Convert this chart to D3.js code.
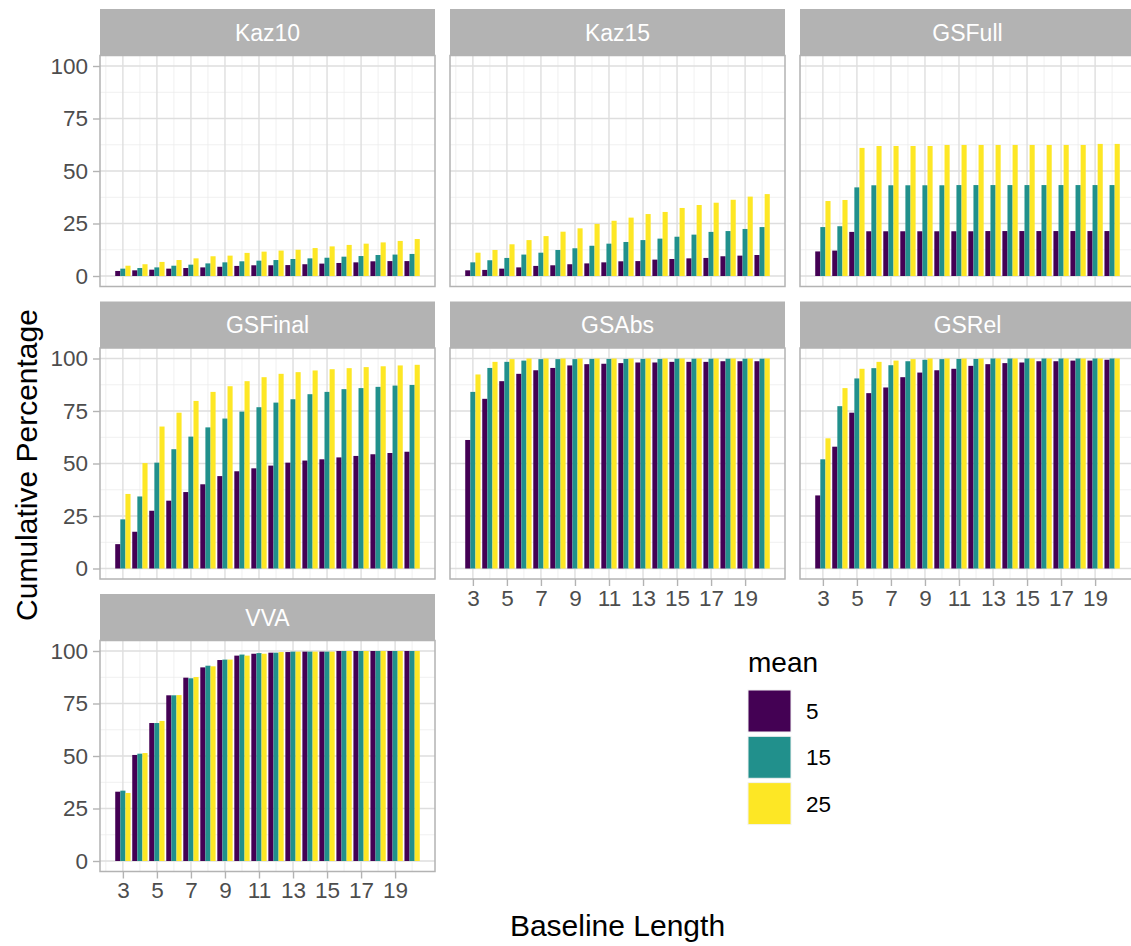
<!DOCTYPE html>
<html>
<head>
<meta charset="utf-8">
<script src="https://cdn.jsdelivr.net/npm/d3@7"></script>
<style>
  body { margin: 0; background: #fff; }
  svg { display: block; font-family: "Liberation Sans", Arial, sans-serif; }
</style>
</head>
<body>
<div id="grafica"></div>
<script>
// categorias del eje x (longitud de la linea base)
const baselineLength = [3, 4, 5, 6, 7, 8, 9, 10, 11, 12, 13, 14, 15, 16, 17, 18, 19, 20];
const means = ["5", "15", "25"];
const methods = ["Kaz10", "Kaz15", "GSFull", "GSFinal", "GSAbs", "GSRel", "VVA"];
const xTicks = [3, 5, 7, 9, 11, 13, 15, 17, 19];
const yTicks = [0, 25, 50, 75, 100];

// porcentaje acumulado, una lista por metodo y media
const kaz10_5  = [2.4, 2.7, 3.0, 3.5, 3.8, 4.1, 4.4, 4.8, 5.1, 5.1, 5.2, 5.6, 5.9, 6.2, 6.5, 7.0, 7.1, 7.1];
const kaz10_15 = [3.5, 3.8, 4.1, 4.9, 5.4, 6.0, 6.5, 7.0, 7.3, 7.6, 8.1, 8.4, 8.7, 9.2, 9.5, 10.0, 10.2, 10.5];
const kaz10_25 = [4.9, 5.6, 6.7, 7.6, 8.4, 9.4, 9.7, 11.0, 11.6, 12.1, 12.5, 13.3, 14.1, 14.8, 15.4, 16.0, 16.7, 17.6];

const kaz15_5  = [2.7, 2.9, 3.5, 4.1, 4.8, 5.1, 5.6, 6.0, 6.5, 7.0, 7.1, 7.8, 8.1, 8.4, 8.6, 9.4, 9.7, 10.0];
const kaz15_15 = [6.5, 7.5, 8.6, 10.2, 11.1, 12.4, 13.2, 14.4, 15.4, 16.2, 17.1, 17.8, 18.7, 19.7, 21.0, 21.4, 22.4, 23.3];
const kaz15_25 = [11.1, 12.4, 15.1, 17.1, 19.0, 21.1, 22.7, 24.8, 26.3, 27.8, 29.5, 30.5, 32.4, 33.8, 34.9, 36.3, 37.8, 39.0];

const gsfull_5  = [11.7, 12.1, 21.0, 21.3, 21.3, 21.3, 21.3, 21.3, 21.3, 21.3, 21.4, 21.4, 21.4, 21.4, 21.4, 21.4, 21.4, 21.4];
const gsfull_15 = [23.3, 23.7, 42.2, 43.2, 43.2, 43.2, 43.2, 43.2, 43.3, 43.3, 43.3, 43.3, 43.3, 43.3, 43.3, 43.3, 43.3, 43.3];
const gsfull_25 = [35.7, 36.2, 61.0, 61.9, 61.9, 61.9, 61.9, 62.4, 62.4, 62.4, 62.4, 62.4, 62.4, 62.4, 62.4, 62.4, 62.9, 62.9];

const gsfinal_5  = [11.6, 17.5, 27.5, 32.3, 36.4, 40.1, 44.0, 46.3, 47.7, 49.0, 50.4, 51.4, 52.0, 52.9, 53.6, 54.4, 55.0, 55.6];
const gsfinal_15 = [23.4, 34.3, 50.4, 56.8, 62.8, 67.2, 71.4, 74.7, 76.8, 79.0, 80.6, 83.0, 84.1, 85.4, 85.9, 86.5, 87.1, 87.4];
const gsfinal_25 = [35.5, 50.2, 67.6, 74.2, 79.8, 84.1, 86.8, 89.2, 91.1, 92.7, 93.5, 94.3, 94.9, 95.4, 95.9, 96.3, 96.7, 97.0];

const gsabs_5  = [61.2, 80.8, 89.2, 92.7, 94.4, 95.5, 96.7, 97.3, 97.5, 97.8, 98.1, 98.1, 98.4, 98.4, 98.4, 98.7, 98.7, 98.7];
const gsabs_15 = [84.1, 95.5, 98.4, 99.0, 99.7, 99.7, 99.7, 99.8, 99.8, 99.8, 99.8, 99.8, 99.9, 99.9, 99.9, 99.9, 99.9, 99.9];
const gsabs_25 = [92.4, 98.4, 99.7, 100, 100, 100, 100, 100, 100, 100, 100, 100, 100, 100, 100, 100, 100, 100];

const gsrel_5  = [34.8, 58.0, 74.2, 83.5, 86.2, 91.1, 93.3, 94.4, 95.1, 96.5, 97.3, 97.8, 98.1, 98.7, 98.7, 99.0, 99.0, 99.4];
const gsrel_15 = [52.0, 77.3, 90.5, 95.4, 96.8, 98.7, 99.4, 99.7, 99.8, 99.8, 100, 100, 100, 100, 100, 100, 100, 100];
const gsrel_25 = [62.0, 85.9, 95.1, 98.4, 99.0, 99.7, 100, 100, 100, 100, 100, 100, 100, 100, 100, 100, 100, 100];

const vva_5  = [33.0, 50.5, 65.7, 78.9, 87.3, 92.2, 95.7, 97.8, 98.7, 99.2, 99.5, 99.7, 99.7, 100, 100, 100, 100, 100];
const vva_15 = [33.5, 51.1, 65.7, 78.9, 87.0, 93.0, 95.9, 98.3, 99.0, 99.2, 99.7, 99.7, 99.7, 100, 100, 100, 100, 100];
const vva_25 = [32.4, 51.4, 66.7, 79.0, 87.6, 92.7, 95.9, 97.8, 98.7, 99.5, 99.7, 99.7, 99.7, 100, 100, 100, 100, 100];

const seriesByMethod = {
  Kaz10: [kaz10_5, kaz10_15, kaz10_25],
  Kaz15: [kaz15_5, kaz15_15, kaz15_25],
  GSFull: [gsfull_5, gsfull_15, gsfull_25],
  GSFinal: [gsfinal_5, gsfinal_15, gsfinal_25],
  GSAbs: [gsabs_5, gsabs_15, gsabs_25],
  GSRel: [gsrel_5, gsrel_15, gsrel_25],
  VVA: [vva_5, vva_15, vva_25]
};

const colores = ["#440154", "#21908C", "#FDE725"];

const width = 1131, height = 946;
const svg = d3.select("#grafica").append("svg")
    .attr("width", width)
    .attr("height", height);

// geometria de la rejilla de paneles
const colX = [100, 450, 800];
const rowY = [9, 301.5, 594];
const pw = 335, stripH = 46.5, ph = 231;

// escalas compartidas (continuas, expansion del 5%)
const dodge = 0.9, barW = dodge / means.length;
const xmin = d3.min(baselineLength) - dodge / 2, xmax = d3.max(baselineLength) + dodge / 2;
const pad = (xmax - xmin) * 0.05;
const x = d3.scaleLinear().domain([xmin - pad, xmax + pad]).range([0, pw]);
const y = d3.scaleLinear().domain([-5, 105]).range([ph, 0]);
const color = d3.scaleOrdinal().domain(means).range(colores);

const xMinor = [2, 4, 6, 8, 10, 12, 14, 16, 18, 20];
const yMinor = [12.5, 37.5, 62.5, 87.5];

methods.forEach(function(m, idx) {
  const col = idx % 3, row = Math.floor(idx / 3);
  const px = colX[col], py = rowY[row] + stripH;
  const g = svg.append("g").attr("transform", `translate(${px},${py})`);

  // cabecera del panel
  svg.append("rect")
    .attr("x", px).attr("y", rowY[row])
    .attr("width", pw).attr("height", stripH)
    .attr("fill", "#b3b3b3");
  svg.append("text")
    .attr("x", px + pw / 2).attr("y", rowY[row] + stripH / 2)
    .attr("dy", "0.36em")
    .attr("text-anchor", "middle")
    .attr("fill", "#ffffff")
    .attr("font-size", 23)
    .text(m);

  // rejilla menor y mayor
  g.selectAll(".ymin").data(yMinor).join("line")
    .attr("x1", 0).attr("x2", pw)
    .attr("y1", d => y(d)).attr("y2", d => y(d))
    .attr("stroke", "#ececec").attr("stroke-width", 0.8);
  g.selectAll(".xmin").data(xMinor.filter(v => x(v) > 0 && x(v) < pw)).join("line")
    .attr("y1", 0).attr("y2", ph)
    .attr("x1", d => x(d)).attr("x2", d => x(d))
    .attr("stroke", "#ececec").attr("stroke-width", 0.8);
  g.selectAll(".ymaj").data(yTicks).join("line")
    .attr("x1", 0).attr("x2", pw)
    .attr("y1", d => y(d)).attr("y2", d => y(d))
    .attr("stroke", "#dedede").attr("stroke-width", 1.4);
  g.selectAll(".xmaj").data(xTicks).join("line")
    .attr("y1", 0).attr("y2", ph)
    .attr("x1", d => x(d)).attr("x2", d => x(d))
    .attr("stroke", "#dedede").attr("stroke-width", 1.4);

  // barras agrupadas
  const series = seriesByMethod[m];
  series.forEach(function(vals, i) {
    g.append("g").selectAll("rect")
      .data(baselineLength.map((b, j) => ({b: b, v: vals[j]})))
      .join("rect")
      .attr("x", d => x(d.b - dodge / 2 + i * barW))
      .attr("width", x(barW) - x(0))
      .attr("y", d => y(d.v))
      .attr("height", d => y(0) - y(d.v))
      .attr("fill", color(means[i]));
  });

  // borde del panel
  g.append("rect")
    .attr("width", pw).attr("height", ph)
    .attr("fill", "none")
    .attr("stroke", "#b3b3b3").attr("stroke-width", 1.5);

  // eje y solo en la primera columna
  if (col === 0) {
    const ay = g.append("g").call(d3.axisLeft(y).tickValues(yTicks).tickSize(7).tickPadding(5));
    ay.select(".domain").remove();
    ay.selectAll("line").attr("stroke", "#b3b3b3").attr("stroke-width", 1.4);
    ay.selectAll("text").attr("fill", "#4d4d4d").attr("font-size", 22.5)
      .attr("font-family", "Liberation Sans, Arial, sans-serif");
  }

  // eje x solo en el panel inferior de cada columna
  const bottom = (row === 2) || (row === 1 && col > 0);
  if (bottom) {
    const ax = g.append("g").attr("transform", `translate(0,${ph})`)
      .call(d3.axisBottom(x).tickValues(xTicks).tickSize(7).tickPadding(4));
    ax.select(".domain").remove();
    ax.selectAll("line").attr("stroke", "#b3b3b3").attr("stroke-width", 1.4);
    ax.selectAll("text").attr("fill", "#4d4d4d").attr("font-size", 22.5)
      .attr("font-family", "Liberation Sans, Arial, sans-serif");
  }
});

// titulos de los ejes
svg.append("text")
  .attr("x", 617.5).attr("y", 936)
  .attr("text-anchor", "middle")
  .attr("font-size", 30)
  .attr("fill", "#000")
  .text("Baseline Length");

svg.append("text")
  .attr("transform", "translate(37,465) rotate(-90)")
  .attr("text-anchor", "middle")
  .attr("font-size", 30)
  .attr("fill", "#000")
  .text("Cumulative Percentage");

// leyenda
const leyenda = svg.append("g").attr("transform", "translate(748,672)");
leyenda.append("text")
  .attr("x", 0).attr("y", 0)
  .attr("font-size", 28)
  .attr("fill", "#000")
  .text("mean");
means.forEach(function(mv, i) {
  leyenda.append("rect")
    .attr("x", 0).attr("y", 18 + i * 46.3)
    .attr("width", 43).attr("height", 42)
    .attr("fill", color(mv))
    .attr("stroke", "#f2f2f2").attr("stroke-width", 1);
  leyenda.append("text")
    .attr("x", 58).attr("y", 18 + i * 46.3 + 21)
    .attr("dy", "0.36em")
    .attr("font-size", 22.5)
    .attr("fill", "#000")
    .text(mv);
});
</script>
</body>
</html>
